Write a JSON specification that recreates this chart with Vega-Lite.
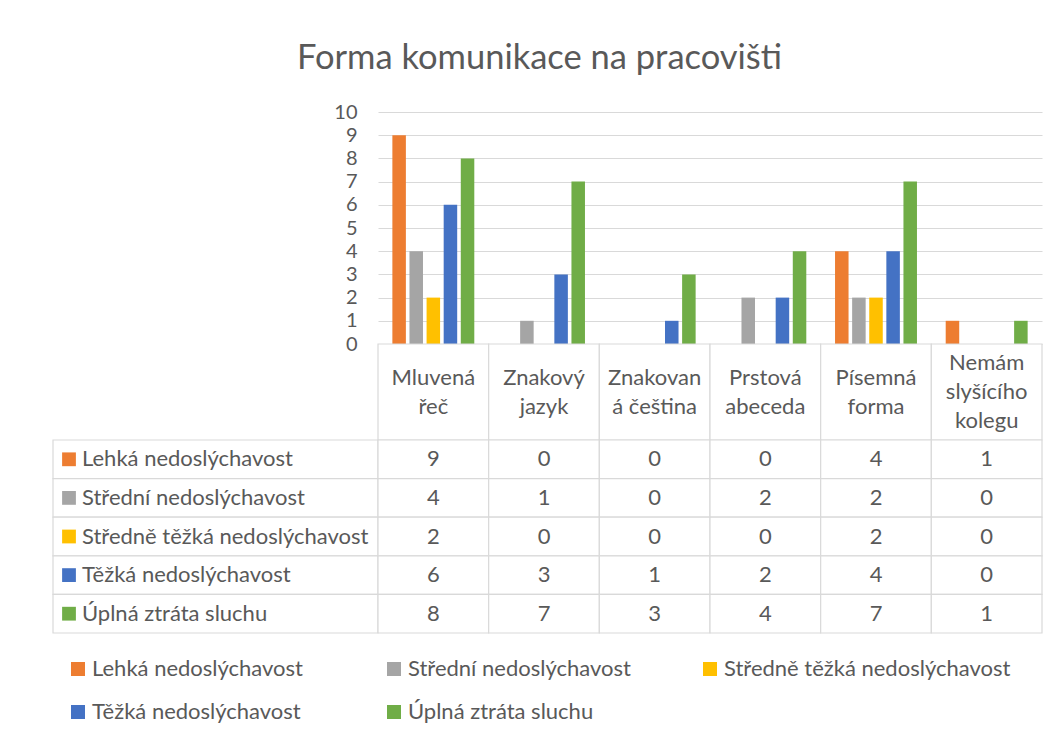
{
  "$schema": "https://vega.github.io/schema/vega-lite/v6.json",
  "background": "white",
  "padding": {"left": 52, "top": 40, "right": 10, "bottom": 10},
  "title": {"text": "Forma komunikace na pracovišti", "font": "Lato", "fontSize": 34.5, "fontWeight": "normal", "color": "#595959", "anchor": "middle", "offset": 26, "dx": -8},
  "datasets": {
    "hodnoty": [
      {"kategorie": "Mluvená řeč", "stupen": "Lehká nedoslýchavost", "pocet": 9},
      {"kategorie": "Znakový jazyk", "stupen": "Lehká nedoslýchavost", "pocet": 0},
      {"kategorie": "Znakovaná čeština", "stupen": "Lehká nedoslýchavost", "pocet": 0},
      {"kategorie": "Prstová abeceda", "stupen": "Lehká nedoslýchavost", "pocet": 0},
      {"kategorie": "Písemná forma", "stupen": "Lehká nedoslýchavost", "pocet": 4},
      {"kategorie": "Nemám slyšícího kolegu", "stupen": "Lehká nedoslýchavost", "pocet": 1},
      {"kategorie": "Mluvená řeč", "stupen": "Střední nedoslýchavost", "pocet": 4},
      {"kategorie": "Znakový jazyk", "stupen": "Střední nedoslýchavost", "pocet": 1},
      {"kategorie": "Znakovaná čeština", "stupen": "Střední nedoslýchavost", "pocet": 0},
      {"kategorie": "Prstová abeceda", "stupen": "Střední nedoslýchavost", "pocet": 2},
      {"kategorie": "Písemná forma", "stupen": "Střední nedoslýchavost", "pocet": 2},
      {"kategorie": "Nemám slyšícího kolegu", "stupen": "Střední nedoslýchavost", "pocet": 0},
      {"kategorie": "Mluvená řeč", "stupen": "Středně těžká nedoslýchavost", "pocet": 2},
      {"kategorie": "Znakový jazyk", "stupen": "Středně těžká nedoslýchavost", "pocet": 0},
      {"kategorie": "Znakovaná čeština", "stupen": "Středně těžká nedoslýchavost", "pocet": 0},
      {"kategorie": "Prstová abeceda", "stupen": "Středně těžká nedoslýchavost", "pocet": 0},
      {"kategorie": "Písemná forma", "stupen": "Středně těžká nedoslýchavost", "pocet": 2},
      {"kategorie": "Nemám slyšícího kolegu", "stupen": "Středně těžká nedoslýchavost", "pocet": 0},
      {"kategorie": "Mluvená řeč", "stupen": "Těžká nedoslýchavost", "pocet": 6},
      {"kategorie": "Znakový jazyk", "stupen": "Těžká nedoslýchavost", "pocet": 3},
      {"kategorie": "Znakovaná čeština", "stupen": "Těžká nedoslýchavost", "pocet": 1},
      {"kategorie": "Prstová abeceda", "stupen": "Těžká nedoslýchavost", "pocet": 2},
      {"kategorie": "Písemná forma", "stupen": "Těžká nedoslýchavost", "pocet": 4},
      {"kategorie": "Nemám slyšícího kolegu", "stupen": "Těžká nedoslýchavost", "pocet": 0},
      {"kategorie": "Mluvená řeč", "stupen": "Úplná ztráta sluchu", "pocet": 8},
      {"kategorie": "Znakový jazyk", "stupen": "Úplná ztráta sluchu", "pocet": 7},
      {"kategorie": "Znakovaná čeština", "stupen": "Úplná ztráta sluchu", "pocet": 3},
      {"kategorie": "Prstová abeceda", "stupen": "Úplná ztráta sluchu", "pocet": 4},
      {"kategorie": "Písemná forma", "stupen": "Úplná ztráta sluchu", "pocet": 7},
      {"kategorie": "Nemám slyšícího kolegu", "stupen": "Úplná ztráta sluchu", "pocet": 1}
    ],
    "kategorie": [
      {"kategorie": "Mluvená řeč", "popisek": "Mluvená\nřeč", "radku": 2},
      {"kategorie": "Znakový jazyk", "popisek": "Znakový\njazyk", "radku": 2},
      {"kategorie": "Znakovaná čeština", "popisek": "Znakovan\ná čeština", "radku": 2},
      {"kategorie": "Prstová abeceda", "popisek": "Prstová\nabeceda", "radku": 2},
      {"kategorie": "Písemná forma", "popisek": "Písemná\nforma", "radku": 2},
      {"kategorie": "Nemám slyšícího kolegu", "popisek": "Nemám\nslyšícího\nkolegu", "radku": 3}
    ],
    "stupne": [
      {"stupen": "Lehká nedoslýchavost"},
      {"stupen": "Střední nedoslýchavost"},
      {"stupen": "Středně těžká nedoslýchavost"},
      {"stupen": "Těžká nedoslýchavost"},
      {"stupen": "Úplná ztráta sluchu"}
    ]
  },
  "columns": 2,
  "spacing": 0,
  "bounds": "flush",
  "align": "each",
  "concat": [
    {
      "width": 325,
      "height": 232,
      "data": {"values": [{}]},
      "mark": {"type": "rect", "opacity": 0}
    },
    {
      "width": 664,
      "height": 232,
      "data": {"name": "hodnoty"},
      "mark": {"type": "bar"},
      "encoding": {
        "x": {"field": "kategorie", "type": "nominal", "axis": null,
          "scale": {"domain": ["Mluvená řeč", "Znakový jazyk", "Znakovaná čeština", "Prstová abeceda", "Písemná forma", "Nemám slyšícího kolegu"], "paddingInner": 0, "paddingOuter": 0}},
        "xOffset": {"field": "stupen", "type": "nominal",
          "scale": {"domain": ["Lehká nedoslýchavost", "Střední nedoslýchavost", "Středně těžká nedoslýchavost", "Těžká nedoslýchavost", "Úplná ztráta sluchu"], "paddingInner": 0.21, "paddingOuter": 0.84}},
        "y": {"field": "pocet", "type": "quantitative", "title": null,
          "scale": {"domain": [0, 10], "nice": false},
          "axis": {"values": [0, 1, 2, 3, 4, 5, 6, 7, 8, 9, 10], "grid": true, "gridColor": "#D9D9D9", "gridWidth": 1.2, "domain": false, "ticks": false, "labelFont": "Lato", "labelFontSize": 20, "labelColor": "#595959", "labelPadding": 21}},
        "color": {"field": "stupen", "type": "nominal",
          "scale": {"domain": ["Lehká nedoslýchavost", "Střední nedoslýchavost", "Středně těžká nedoslýchavost", "Těžká nedoslýchavost", "Úplná ztráta sluchu"], "range": ["#ED7D31", "#A5A5A5", "#FFC000", "#4472C4", "#70AD47"]},
          "legend": {"orient": "none", "legendX": 14, "legendY": 546, "direction": "horizontal", "columns": 3, "title": null, "symbolType": "square", "symbolSize": 196, "symbolStrokeWidth": 0, "labelFont": "Lato", "labelFontSize": 22, "labelColor": "#595959", "labelOffset": 3, "columnPadding": 4, "rowPadding": 21, "gridAlign": "all", "padding": 0, "labelLimit": 500}}
      }
    },
    {
      "width": 325,
      "height": 96,
      "data": {"values": [{}]},
      "mark": {"type": "rect", "opacity": 0}
    },
    {
      "width": 664,
      "height": 96,
      "data": {"name": "kategorie"},
      "encoding": {
        "x": {"field": "kategorie", "type": "nominal", "axis": null,
          "scale": {"domain": ["Mluvená řeč", "Znakový jazyk", "Znakovaná čeština", "Prstová abeceda", "Písemná forma", "Nemám slyšícího kolegu"], "paddingInner": 0, "paddingOuter": 0}}
      },
      "layer": [
        {"mark": {"type": "rect", "fill": "white", "stroke": "#D9D9D9", "strokeWidth": 1.2}},
        {"transform": [{"filter": {"field": "radku", "equal": 2}}],
         "mark": {"type": "text", "font": "Lato", "fontSize": 22, "color": "#595959", "lineBreak": "\n", "lineHeight": 29, "dy": -14.5},
         "encoding": {"text": {"field": "popisek", "type": "nominal"}}},
        {"transform": [{"filter": {"field": "radku", "equal": 3}}],
         "mark": {"type": "text", "font": "Lato", "fontSize": 22, "color": "#595959", "lineBreak": "\n", "lineHeight": 29, "dy": -29},
         "encoding": {"text": {"field": "popisek", "type": "nominal"}}}
      ]
    },
    {
      "width": 325,
      "height": 193,
      "data": {"name": "stupne"},
      "encoding": {
        "y": {"field": "stupen", "type": "nominal", "axis": null,
          "scale": {"domain": ["Lehká nedoslýchavost", "Střední nedoslýchavost", "Středně těžká nedoslýchavost", "Těžká nedoslýchavost", "Úplná ztráta sluchu"], "paddingInner": 0, "paddingOuter": 0}}
      },
      "layer": [
        {"mark": {"type": "rect", "fill": "white", "stroke": "#D9D9D9", "strokeWidth": 1.2}},
        {"mark": {"type": "square", "size": 190, "opacity": 1},
         "encoding": {"x": {"value": 16}, "color": {"field": "stupen", "type": "nominal"}}},
        {"mark": {"type": "text", "align": "left", "font": "Lato", "fontSize": 22, "color": "#595959"},
         "encoding": {"x": {"value": 29}, "text": {"field": "stupen", "type": "nominal"}}}
      ]
    },
    {
      "width": 664,
      "height": 193,
      "data": {"name": "hodnoty"},
      "encoding": {
        "x": {"field": "kategorie", "type": "nominal", "axis": null,
          "scale": {"domain": ["Mluvená řeč", "Znakový jazyk", "Znakovaná čeština", "Prstová abeceda", "Písemná forma", "Nemám slyšícího kolegu"], "paddingInner": 0, "paddingOuter": 0}},
        "y": {"field": "stupen", "type": "nominal", "axis": null,
          "scale": {"domain": ["Lehká nedoslýchavost", "Střední nedoslýchavost", "Středně těžká nedoslýchavost", "Těžká nedoslýchavost", "Úplná ztráta sluchu"], "paddingInner": 0, "paddingOuter": 0}}
      },
      "layer": [
        {"mark": {"type": "rect", "fill": "white", "stroke": "#D9D9D9", "strokeWidth": 1.2}},
        {"mark": {"type": "text", "font": "Lato", "fontSize": 22, "color": "#595959"},
         "encoding": {"text": {"field": "pocet", "type": "quantitative"}}}
      ]
    }
  ],
  "config": {"view": {"stroke": null}, "font": "Lato"}
}
